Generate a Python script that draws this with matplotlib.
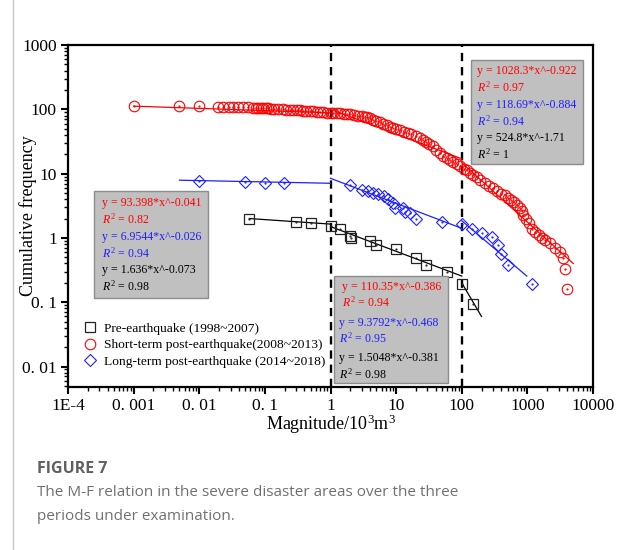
import numpy as np
import matplotlib.pyplot as plt
from matplotlib.patches import Rectangle
from matplotlib.ticker import FixedLocator, LogLocator, NullFormatter

plt.rcParams['font.family'] = 'Liberation Serif'
plt.rcParams['mathtext.fontset'] = 'custom'
plt.rcParams['mathtext.rm'] = 'Liberation Serif'
plt.rcParams['mathtext.it'] = 'Liberation Serif:italic'

# Pre-earthquake (1998~2007)
pre_x = [0.058, 0.295, 0.5, 1.0, 1.4, 1.98, 2.05, 4.0, 5.0, 10, 20, 29, 59, 100, 150]
pre_y = [1.95, 1.77, 1.69, 1.55, 1.36, 1.07, 0.99, 0.90, 0.78, 0.68, 0.48, 0.38, 0.29, 0.19, 0.095]

# Short-term post-earthquake (2008~2013)
short_x = [0.001, 0.0049, 0.01, 0.0195, 0.023, 0.028, 0.033, 0.039, 0.047, 0.056, 0.066, 0.072,
           0.079, 0.087, 0.095, 0.105, 0.112, 0.125, 0.14, 0.16, 0.19, 0.21, 0.24, 0.27, 0.31,
           0.34, 0.38, 0.43, 0.49, 0.55, 0.62, 0.7, 0.78, 0.88, 1.0,
           1.1, 1.25, 1.4, 1.6, 1.8, 2.0, 2.3, 2.6, 3.0, 3.3, 3.6, 4.0, 4.5, 5.0, 5.6, 6.4, 7.2,
           8.0, 9.0, 10, 11.5, 13, 15, 17, 20, 23, 26, 29, 32, 36, 41, 46, 52, 60, 67, 74, 85, 95,
           108, 119, 135, 150, 170, 190, 226, 260, 303, 350, 400, 456, 500, 560, 615, 700, 775,
           820, 870, 950, 1050, 1170, 1300, 1500, 1700, 1860, 2200, 2650, 3100, 3550, 3760, 4000]
short_y = [112, 111.5, 111, 110.5, 110, 109.5, 109, 108.5, 108, 107, 106.5, 106,
           105.5, 105, 104, 103.5, 103, 102, 101.5, 101, 100, 99, 98, 97.5, 97,
           96, 95, 94.5, 93.5, 93, 92, 91, 90, 89, 88,
           87.5, 87, 86.5, 86, 85, 84, 82, 80, 78, 76.5, 75, 72, 69, 66, 63, 60, 57,
           54, 51, 49, 47.5, 45, 43, 41, 38.5, 36, 33, 31, 29, 26.5, 23.5, 21, 19, 17.5, 16.5, 15.3, 14, 13,
           12, 11.4, 10.2, 9.5, 8.7, 7.9, 7.1, 6.5, 5.9, 5.3, 4.9, 4.6, 4.2, 3.9, 3.6, 3.2, 2.88,
           2.6, 2.27, 2.0, 1.7, 1.4, 1.25, 1.1, 1.0, 0.93, 0.82, 0.69, 0.6, 0.48, 0.33, 0.16]

# Long-term post-earthquake (2014~2018)
long_x = [0.0099, 0.05, 0.1, 0.198, 1.98, 3.0, 3.77, 4.5, 5.35, 6.6, 7.6, 9.06, 9.6, 12.9,
          13.7, 16.3, 20, 49.5, 100, 145, 202, 290, 361, 395, 505, 1190]
long_y = [7.76, 7.48, 7.2, 7.06, 6.65, 5.56, 5.42, 4.94, 4.82, 4.48, 3.98, 3.45, 2.88, 2.88,
          2.55, 2.4, 1.95, 1.79, 1.64, 1.40, 1.18, 1.02, 0.78, 0.56, 0.38, 0.19]

# fitted segments (start, end) per segment
pre_fit_x = [[0.058, 1], [1, 100], [100, 200]]
pre_fit_y = [[2.0, 1.64], [1.50, 0.255], [0.20, 0.06]]
short_fit_x = [[0.001, 1], [1, 100], [100, 5000]]
short_fit_y = [[112, 88], [100, 17], [14.7, 0.40]]
long_fit_x = [[0.005, 1], [1, 100], [100, 980]]
long_fit_y = [[7.9, 7.07], [8.45, 1.41], [1.85, 0.255]]

# equations in the three boxes (red, blue, black)
box_left = ["y = 93.398*x^-0.041", "0.82", "y = 6.9544*x^-0.026", "0.94", "y = 1.636*x^-0.073", "0.98"]
box_mid = ["y = 110.35*x^-0.386", "0.94", "y = 9.3792*x^-0.468", "0.95", "y = 1.5048*x^-0.381", "0.98"]
box_right = ["y = 1028.3*x^-0.922", "0.97", "y = 118.69*x^-0.884", "0.94", "y = 524.8*x^-1.71", "1"]

x_ticks = [1e-4, 1e-3, 1e-2, 1e-1, 1, 10, 100, 1000, 10000]
x_labels = ["1E-4", "0. 001", "0. 01", "0. 1", "1", "10", "100", "1000", "10000"]
y_ticks = [0.01, 0.1, 1, 10, 100, 1000]
y_labels = ["0. 01", "0. 1", "1", "10", "100", "1000"]

RED = '#ff0000'
BLUE = '#1f1fff'
BLACK = '#222222'

W, H = 622, 550
fig = plt.figure(figsize=(6.22, 5.5), dpi=100)
ax = fig.add_axes([68 / W, 1 - 387 / H, 525 / W, 342 / H])
ax.set_xscale('log')
ax.set_yscale('log')
ax.set_xlim(1e-4, 1e4)
ax.set_ylim(0.0048, 1000)

for fx, fy, c in [(pre_fit_x, pre_fit_y, 'black'), (short_fit_x, short_fit_y, RED),
                  (long_fit_x, long_fit_y, BLUE)]:
    for sx, sy in zip(fx, fy):
        ax.plot(sx, sy, color=c, lw=0.9, zorder=3)

ax.plot(pre_x, pre_y, ls='none', marker='s', ms=6.6, mfc='none', mec=BLACK, mew=0.9,
        label='Pre-earthquake (1998~2007)', zorder=4)
ax.plot(short_x, short_y, ls='none', marker='o', ms=7.6, mfc='none', mec=RED, mew=0.8,
        label='Short-term post-earthquake(2008~2013)', zorder=4)
ax.plot(long_x, long_y, ls='none', marker='D', ms=6.0, mfc='none', mec=BLUE, mew=0.8,
        label='Long-term post-earthquake (2014~2018)', zorder=4)
# little center dots like the original software draws
ax.plot(pre_x, pre_y, ls='none', marker='.', ms=1.2, color=BLACK, zorder=5)
ax.plot(short_x, short_y, ls='none', marker='.', ms=1.2, color=RED, zorder=5)
ax.plot(long_x, long_y, ls='none', marker='.', ms=1.2, color=BLUE, zorder=5)

for xv in [1, 100]:
    ax.axvline(xv, color='black', lw=1.7, ls=(0, (3.5, 2.5)), zorder=2)

ax.xaxis.set_major_locator(FixedLocator(x_ticks))
ax.set_xticklabels(x_labels)
ax.yaxis.set_major_locator(FixedLocator(y_ticks))
ax.set_yticklabels(y_labels)
ax.xaxis.set_minor_locator(LogLocator(base=10, subs=np.arange(2, 10), numticks=20))
ax.yaxis.set_minor_locator(LogLocator(base=10, subs=np.arange(2, 10), numticks=20))
ax.xaxis.set_minor_formatter(NullFormatter())
ax.yaxis.set_minor_formatter(NullFormatter())
ax.tick_params(which='major', direction='out', length=5, width=1.5, labelsize=12.5, pad=3)
ax.tick_params(which='minor', direction='out', length=3, width=1.0)
for s in ax.spines.values():
    s.set_linewidth(1.6)

ax.set_xlabel('Magnitude/10$^3$m$^3$', fontsize=13)
ax.xaxis.set_label_coords(0.5, -(413 - 387) / 342)
ax.set_ylabel('Cumulative frequency', fontsize=13)
ax.yaxis.set_label_coords(-(68 - 37) / 525, 0.5)

leg = ax.legend(loc='upper left', bbox_to_anchor=(0.018, (387 - 317) / 342), frameon=False,
                fontsize=9.7, handletextpad=0.6, labelspacing=0.3, handlelength=1.0,
                borderaxespad=0)


def draw_box(x0, y0, x1, y1, tx, lines_y, texts, red_dx=0):
    fig.patches.append(Rectangle((x0 / W, 1 - y1 / H), (x1 - x0) / W, (y1 - y0) / H,
                                 transform=fig.transFigure, facecolor='#c0c0c0',
                                 edgecolor='#8c8c8c', lw=1.0, zorder=6))
    colors = [RED, RED, BLUE, BLUE, 'black', 'black']
    for i, (t, yy, c) in enumerate(zip(texts, lines_y, colors)):
        s = t if i % 2 == 0 else '$R^2$ = ' + t
        dx = red_dx if i < 2 else 0
        fig.text((tx + dx) / W, 1 - yy / H, s, color=c, fontsize=8.6, va='center',
                 ha='left', zorder=7)


draw_box(94, 191, 208, 298, 102, [203, 219, 237, 253, 270, 286], box_left)
draw_box(334, 276, 448, 383, 339, [287, 302, 323, 338, 358, 374], box_mid, red_dx=3)
draw_box(471, 60, 583, 164, 477, [71, 87, 105, 121, 138, 154], box_right)

# page furniture
fig.add_artist(plt.Line2D([12.5 / W, 12.5 / W], [0, 1], color='#c8c8c8', lw=1.0))
fig.text(37 / W, 1 - 469 / H, 'FIGURE 7', fontsize=11.5, fontweight='bold', color='#606060',
         family='Open Sans', va='center')
fig.text(37 / W, 1 - 493 / H, 'The M-F relation in the severe disaster areas over the three',
         fontsize=11, color='#707070', family='Open Sans', va='center')
fig.text(37 / W, 1 - 517 / H, 'periods under examination.',
         fontsize=11, color='#707070', family='Open Sans', va='center')

fig.savefig('out.png', dpi=100)
